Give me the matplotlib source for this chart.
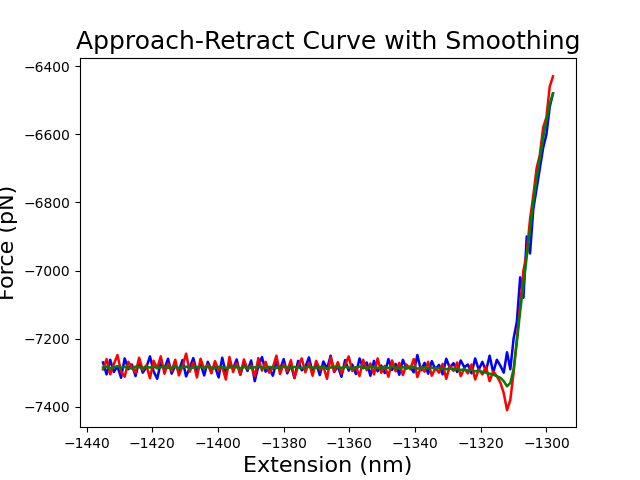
import numpy as np
import matplotlib
matplotlib.use("Agg")
import matplotlib.pyplot as plt

# Approach (blue) force values
approach_flat = [-7270,-7305,-7262,-7298,-7281,-7315,-7258,-7290,-7276,-7310,-7266,-7300,-7284,-7252,-7296,-7318,-7271,-7289,-7259,-7303,
 -7279,-7294,-7263,-7311,-7285,-7257,-7299,-7274,-7308,-7268,-7292,-7282,-7314,-7256,-7301,-7277,-7288,-7261,-7306,-7273,
 -7295,-7264,-7325,-7280,-7254,-7297,-7286,-7309,-7269,-7291,-7260,-7302,-7278,-7316,-7265,-7293,-7283,-7255,-7300,-7272,
 -7307,-7267,-7289,-7250,-7298,-7281,-7312,-7263,-7294,-7276,-7304,-7258,-7287,-7270,-7309,-7265,-7296,-7279,-7301,-7260,
 -7292,-7274,-7306,-7262,-7288,-7282,-7299,-7248,-7293,-7271,-7303,-7266,-7290,-7277,-7305,-7259,-7286,-7272,-7298,-7264,
 -7284,-7276,-7302,-7258,-7291,-7268,-7295,-7250,-7300,-7262]
approach_rise = [-7280,-7300,-7240,-7290,-7200,-7150,-7020,-7080,-6900,-6950,-6820,-6760,-6700,-6640,-6600,-6520,-6480]
# Retract (red) force values
retract_flat = [-7290,-7260,-7305,-7275,-7248,-7296,-7312,-7268,-7284,-7300,-7256,-7292,-7278,-7316,-7265,-7287,-7252,-7303,-7273,-7295,
 -7262,-7308,-7281,-7244,-7297,-7270,-7314,-7259,-7289,-7276,-7302,-7266,-7293,-7283,-7320,-7254,-7298,-7272,-7306,-7261,
 -7290,-7279,-7311,-7257,-7294,-7268,-7300,-7285,-7250,-7304,-7274,-7296,-7263,-7315,-7280,-7258,-7299,-7271,-7309,-7265,
 -7291,-7282,-7318,-7255,-7297,-7269,-7303,-7277,-7252,-7295,-7284,-7310,-7262,-7293,-7273,-7305,-7258,-7300,-7280,-7312,
 -7264,-7296,-7271,-7307,-7276,-7290,-7260,-7313,-7283,-7297,-7268,-7309,-7286,-7300,-7274,-7318,-7279,-7295,-7270,-7310,
 -7288,-7302,-7276,-7320,-7290,-7305,-7282,-7325,-7296,-7310]
retract_rise = [-7330,-7360,-7410,-7380,-7300,-7200,-7100,-7000,-6950,-6850,-6780,-6700,-6660,-6580,-6550,-6460,-6430]
# Smoothed (green)
smooth_flat = [-7285,-7282,-7287,-7284,-7281,-7286,-7283,-7285,-7288,-7282,-7284,-7286,-7283,-7285,-7281,-7287,-7284,-7282,-7286,-7285,
 -7283,-7286,-7284,-7282,-7287,-7285,-7283,-7284,-7286,-7282,-7285,-7287,-7283,-7284,-7286,-7285,-7282,-7284,-7287,-7283,
 -7285,-7286,-7284,-7282,-7285,-7287,-7283,-7284,-7286,-7285,-7282,-7284,-7286,-7283,-7285,-7287,-7284,-7282,-7285,-7286,
 -7283,-7284,-7287,-7285,-7282,-7284,-7286,-7283,-7285,-7287,-7284,-7282,-7285,-7286,-7284,-7283,-7287,-7285,-7284,-7286,
 -7283,-7285,-7287,-7284,-7286,-7285,-7283,-7288,-7286,-7284,-7287,-7285,-7289,-7286,-7288,-7290,-7287,-7291,-7289,-7292,
 -7290,-7294,-7292,-7296,-7294,-7298,-7300,-7303,-7306,-7310]
smooth_rise = [-7315,-7325,-7340,-7330,-7290,-7210,-7120,-7040,-6960,-6880,-6800,-6730,-6670,-6610,-6560,-6510,-6480]

x_start, x_knee, x_end = -1435.0, -1314.0, -1298.0

fig, ax = plt.subplots(figsize=(6.4, 4.8), dpi=100)
for flat, rise, c in [(approach_flat, approach_rise, "blue"),
                      (retract_flat, retract_rise, "red"),
                      (smooth_flat, smooth_rise, "green")]:
    xf = np.linspace(x_start, x_knee, len(flat), endpoint=False)
    xr = np.linspace(x_knee, x_end, len(rise))
    ax.plot(np.concatenate([xf, xr]), flat + rise, color=c, lw=1.8)

ax.set_xlim(-1442, -1291)
ax.set_ylim(-7460, -6375)
ax.set_yticks([-7400, -7200, -7000, -6800, -6600, -6400])
ax.set_title("Approach-Retract Curve with Smoothing", fontsize=18)
ax.set_xlabel("Extension (nm)", fontsize=16)
ax.set_ylabel("Force (pN)", fontsize=16)
fig.savefig("out.png")
